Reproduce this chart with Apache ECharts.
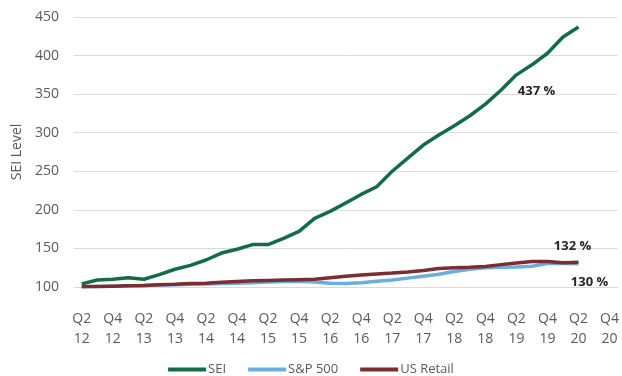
<!DOCTYPE html>
<html>
<head>
<meta charset="utf-8">
<script src="https://cdn.jsdelivr.net/npm/echarts@6/dist/echarts.min.js"></script>
<style>html,body{margin:0;padding:0;background:#fff;}#c{width:622px;height:376px;}</style>
</head>
<body>
<div id="c"></div>
<script>
const categories = ['Q2 12','Q3 12','Q4 12','Q1 13','Q2 13','Q3 13','Q4 13','Q1 14','Q2 14','Q3 14','Q4 14','Q1 15','Q2 15','Q3 15','Q4 15','Q1 16','Q2 16','Q3 16','Q4 16','Q1 17','Q2 17','Q3 17','Q4 17','Q1 18','Q2 18','Q3 18','Q4 18','Q1 19','Q2 19','Q3 19','Q4 19','Q1 20','Q2 20','Q3 20','Q4 20'];
const seiValues = [104,109,110,112,110,116,123,128,135,144,149,155,155,163,172,189,198,209,220,230,250,267,284,297,309,322,337,355,375,388,403,424,437];
const spValues = [100,100.5,101,101.5,102,102.5,103,103.5,104,104.5,105,105.5,106.5,107,107.5,106.5,105,104.5,105.5,107.5,109,111.5,114,116.5,120,123,125,125.5,126,127,130.5,130.5,130];
const retailValues = [100.5,100.5,101,101.5,102,103,103.5,104.5,105,106,107,108,108.5,109,109.5,110,112,114,115.5,117,118,119.5,121.5,124,125,125.5,126.5,129,131,133,133,131.5,132];
const endLabels = ['437 %','130 %','132 %'];
const seriesNames = ['SEI','S&P 500','US Retail'];
const yTicks = {min:100, max:450, interval:50};

function withEndLabel(values, text, offset){
  return values.map((v,i)=> i===values.length-1 ? {value:v, label:{show:true, position:'inside', formatter:text, offset:offset, color:'#262626', fontWeight:'bold', fontSize:13, fontFamily:'Open Sans'}} : v);
}

const chart = echarts.init(document.getElementById('c'), null, {renderer:'canvas'});
const font = 'Open Sans';
function lineSeries(name, values, label, offset, color, z){
  return {name:name, type:'line', data:withEndLabel(values, label, offset), showSymbol:true, symbol:'circle', symbolSize:0.01,
    label:{show:false}, lineStyle:{color:color, width:3.5}, itemStyle:{color:color}, z:z, emphasis:{disabled:true}};
}
chart.setOption({
  animation:false,
  grid:{left:74, right:4, top:17, bottom:89, containLabel:false},
  legend:{
    data:seriesNames, top:358, left:'center', icon:'rect', itemWidth:38, itemHeight:4, itemGap:22,
    textStyle:{color:'#595959', fontSize:13, fontFamily:font, padding:[0,0,0,-3]}
  },
  xAxis:{
    type:'category', data:categories, boundaryGap:true,
    axisLine:{show:true, lineStyle:{color:'#d9d9d9', width:1}},
    axisTick:{show:false},
    axisLabel:{interval:1, color:'#595959', fontSize:14, fontFamily:font, margin:22, lineHeight:20,
      formatter:(v)=>v.replace(' ','\n')},
    splitLine:{show:false}
  },
  yAxis:{
    type:'value', min:yTicks.min, max:yTicks.max, interval:yTicks.interval,
    name:'SEI Level', nameLocation:'middle', nameGap:47,
    nameTextStyle:{color:'#595959', fontSize:14, fontFamily:font},
    axisLine:{show:false}, axisTick:{show:false},
    axisLabel:{color:'#595959', fontSize:14, fontFamily:font, margin:15},
    splitLine:{lineStyle:{color:'#d9d9d9', width:1}}
  },
  series:[
    lineSeries(seriesNames[0], seiValues, endLabels[0], [-42,64], '#146B47', 3),
    lineSeries(seriesNames[1], spValues, endLabels[1], [11,18], '#6AAEDF', 1),
    lineSeries(seriesNames[2], retailValues, endLabels[2], [-6,-16], '#7B2E31', 2)
  ]
});
</script>
</body>
</html>
